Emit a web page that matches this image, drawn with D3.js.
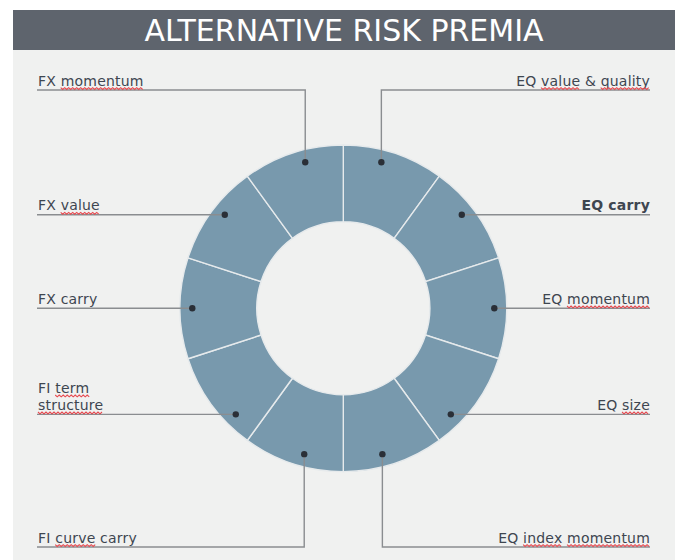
<!DOCTYPE html>
<html>
<head>
<meta charset="utf-8">
<script src="https://cdn.jsdelivr.net/npm/d3@7"></script>
<style>
  body { margin: 0; background: #fff; }
  svg { display: block; }
  text { font-family: "DejaVu Sans", Verdana, sans-serif; }
</style>
</head>
<body>
<svg id="chart"></svg>
<script>
// ---- data (clockwise from 12 o'clock) ----
const title = "ALTERNATIVE RISK PREMIA";
const labels = [
  "EQ value & quality", "EQ carry", "EQ momentum", "EQ size", "EQ index momentum",
  "FI curve carry", "FI term structure", "FX carry", "FX value", "FX momentum"
];
const labelLines = [
  ["EQ value & quality"], ["EQ carry"], ["EQ momentum"], ["EQ size"], ["EQ index momentum"],
  ["FI curve carry"], ["FI term", "structure"], ["FX carry"], ["FX value"], ["FX momentum"]
];
const weights = [1, 1, 1, 1, 1, 1, 1, 1, 1, 1];           // equal slices
const dotAngles = [14.6, 51.7, 90, 134.6, 165, 195, 225.4, 270, 308.3, 345.4]; // degrees
const rowY = [90, null, null, null, 547, 547, null, null, null, 90];          // elbow leaders
const boldLabels = ["EQ carry"];
const squiggleWords = ["value", "quality", "momentum", "size", "index", "curve", "term", "structure"];

const width = 679, height = 560;
const cx = 343.3, cy = 308.3;
const outerR = 163.3, innerR = 86.5, dotR = 151;
const leftX = 37, rightX = 650;

const svg = d3.select("#chart").attr("width", width).attr("height", height);

// panel + title bar
svg.append("rect")
  .attr("x", 13).attr("y", 50).attr("width", 662).attr("height", 510)
  .attr("fill", "#f0f1f0");
svg.append("rect")
  .attr("x", 13).attr("y", 10).attr("width", 662).attr("height", 40)
  .attr("fill", "#5e646d");
svg.append("text")
  .attr("x", 344).attr("y", 41)
  .attr("text-anchor", "middle")
  .attr("fill", "#ffffff")
  .style("font-size", "30px")
  .text(title);

// donut
const pie = d3.pie().sort(null).value(d => d);
const arc = d3.arc().innerRadius(innerR).outerRadius(outerR);
const angle = d3.scaleLinear().domain([0, 360]).range([0, 2 * Math.PI]);

const g = svg.append("g").attr("transform", `translate(${cx},${cy})`);
g.selectAll("path.slice")
  .data(pie(weights))
  .join("path")
  .attr("class", "slice")
  .attr("d", arc)
  .attr("fill", "#7899ad")
  .attr("stroke", "#e6eaec")
  .attr("stroke-width", 1.4);

// leaders, dots, labels
const items = labels.map((name, i) => {
  const [px, py] = d3.pointRadial(angle(dotAngles[i]), dotR);
  const x = cx + px, y = cy + py;
  const right = dotAngles[i] < 180;
  const lineY = rowY[i] == null ? y : rowY[i];
  return { name, i, x, y, right, lineY, lines: labelLines[i] };
});

svg.append("g").selectAll("path")
  .data(items)
  .join("path")
  .attr("d", d => {
    const endX = d.right ? rightX : leftX;
    return rowY[d.i] == null
      ? `M${d.x},${d.lineY}H${endX}`
      : `M${d.x},${d.y}V${d.lineY}H${endX}`;
  })
  .attr("fill", "none")
  .attr("stroke", "#8a8d90")
  .attr("stroke-width", 1.4);

svg.append("g").selectAll("circle")
  .data(items)
  .join("circle")
  .attr("cx", d => d.x)
  .attr("cy", d => d.y)
  .attr("r", 3.2)
  .attr("fill", "#2a2f37");

const lineH = 17;
const labelG = svg.append("g");
const squiggles = svg.append("g");

items.forEach(d => {
  const n = d.lines.length;
  d.lines.forEach((line, k) => {
    const baseY = d.lineY - 4.5 - (n - 1 - k) * lineH;
    const t = labelG.append("text")
      .attr("x", d.right ? rightX : leftX + 1)
      .attr("y", baseY)
      .attr("text-anchor", d.right ? "end" : "start")
      .attr("fill", "#3e4650")
      .style("font-size", "14px")
      .style("letter-spacing", "0.2px")
      .style("font-weight", boldLabels.includes(d.name) ? "bold" : "normal")
      .text(line);

    // red spell-check squiggles under flagged words
    const node = t.node();
    let pos = 0;
    line.split(" ").forEach(word => {
      const start = line.indexOf(word, pos);
      pos = start + word.length;
      if (!squiggleWords.includes(word)) return;
      const x0 = node.getStartPositionOfChar(start).x;
      const last = node.getExtentOfChar(start + word.length - 1);
      const x1 = last.x + last.width;
      const y0 = baseY + 2.2;
      const pts = d3.range(x0, x1 + 0.01, 2).map((x, j) => [x, y0 + (j % 2 ? 1.8 : 0)]);
      squiggles.append("path")
        .attr("d", d3.line()(pts))
        .attr("fill", "none")
        .attr("stroke", "#e64a50")
        .attr("stroke-width", 1.1);
    });
  });
});
</script>
</body>
</html>
